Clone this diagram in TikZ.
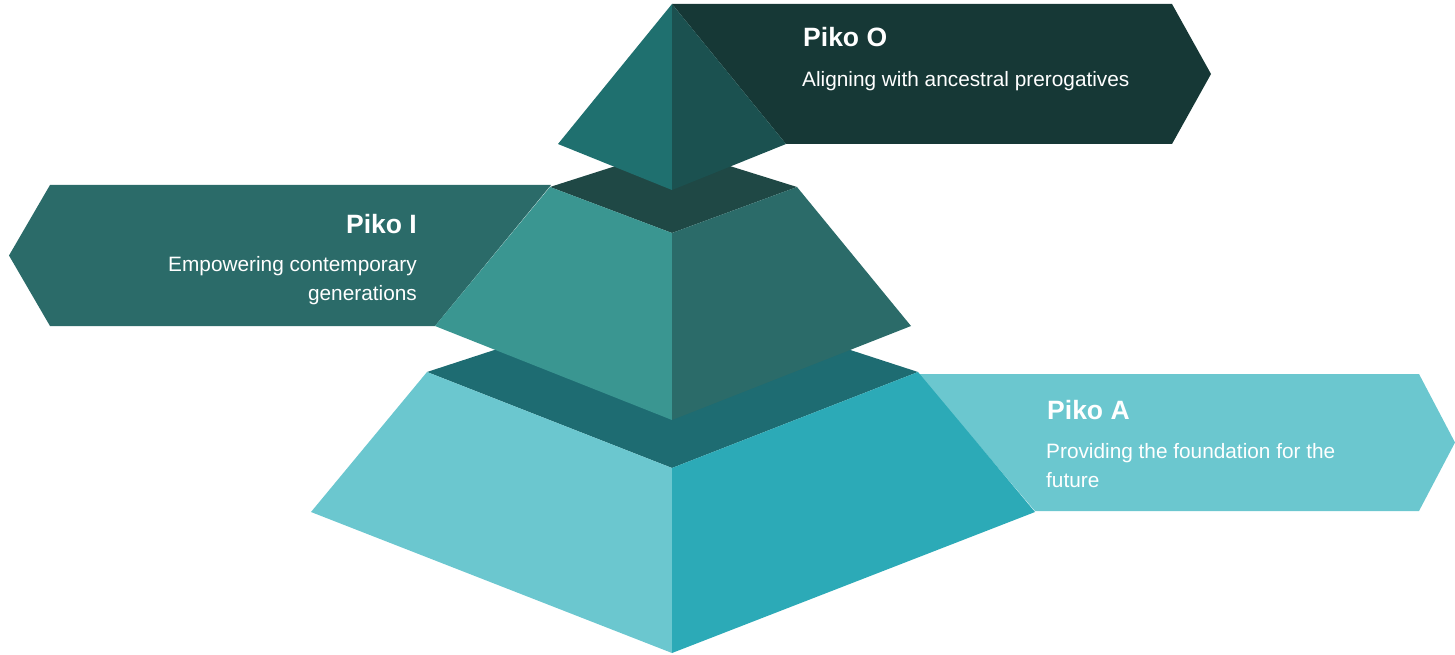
\documentclass[tikz,border=0pt]{standalone}
\usepackage{fontspec}
\setmainfont{Liberation Sans}
\definecolor{bannerO}{HTML}{163836}
\definecolor{topL}{HTML}{1F706F}
\definecolor{topR}{HTML}{1B5150}
\definecolor{midCap}{HTML}{1F4845}
\definecolor{midL}{HTML}{3A9691}
\definecolor{midR}{HTML}{2B6B69}
\definecolor{botCap}{HTML}{1E6C72}
\definecolor{botL}{HTML}{6BC7CF}
\definecolor{botR}{HTML}{2CAAB7}
\tikzset{
  facefill/.style={fill=#1, draw=none},
  titletext/.style={text=white, inner sep=0pt, font=\fontsize{26.5}{30}\selectfont\bfseries},
  bodytext/.style={text=white, inner sep=0pt, font=\fontsize{20.8}{29}\selectfont},
}
\begin{document}
\begin{tikzpicture}[x=1pt,y=-1pt]
\useasboundingbox (0,0) rectangle (1455,655);
% banners
\fill[bannerO] (672,4) -- (1172,4) -- (1211,74) -- (1172,144) -- (786,144) -- cycle;
\fill[midR] (551,185) -- (50,185) -- (9,255.5) -- (50,326) -- (435,326) -- cycle;
\fill[botL] (918,374) -- (1419,374) -- (1455,442.5) -- (1419,511) -- (1035,511) -- cycle;
% bottom pyramid
\fill[botCap] (427,372) -- (672,292) -- (918,372) -- (672,468) -- cycle;
\fill[botL] (427,372) -- (672,468) -- (672,653) -- (311,512) -- cycle;
\fill[botR] (672,468) -- (918,372) -- (1035,512) -- (672,653) -- cycle;
% middle pyramid
\fill[midCap] (550,187) -- (672,148) -- (797,187) -- (672,233) -- cycle;
\fill[midL] (550,187) -- (672,233) -- (672,420) -- (435,326) -- cycle;
\fill[midR] (672,233) -- (797,187) -- (911,326) -- (672,420) -- cycle;
% top pyramid
\fill[topL] (672,4) -- (672,190) -- (558,144) -- cycle;
\fill[topR] (672,4) -- (786,144) -- (672,190) -- cycle;
% texts
\node[titletext, anchor=base west] (tO) at (803,47) {Piko O};
\node[bodytext, anchor=base west] (bO) at (802,87) {Aligning with ancestral prerogatives};
\node[titletext, anchor=base east] (tI) at (417,233) {Piko I};
\node[bodytext, anchor=base east] (bI1) at (417,271) {Empowering contemporary};
\node[bodytext, anchor=base east] (bI2) at (417,300) {generations};
\node[titletext, anchor=base west] (tA) at (1047,419) {Piko A};
\node[bodytext, anchor=base west] (bA1) at (1046,458) {Providing the foundation for the};
\node[bodytext, anchor=base west] (bA2) at (1046,487) {future};
\end{tikzpicture}
\end{document}
